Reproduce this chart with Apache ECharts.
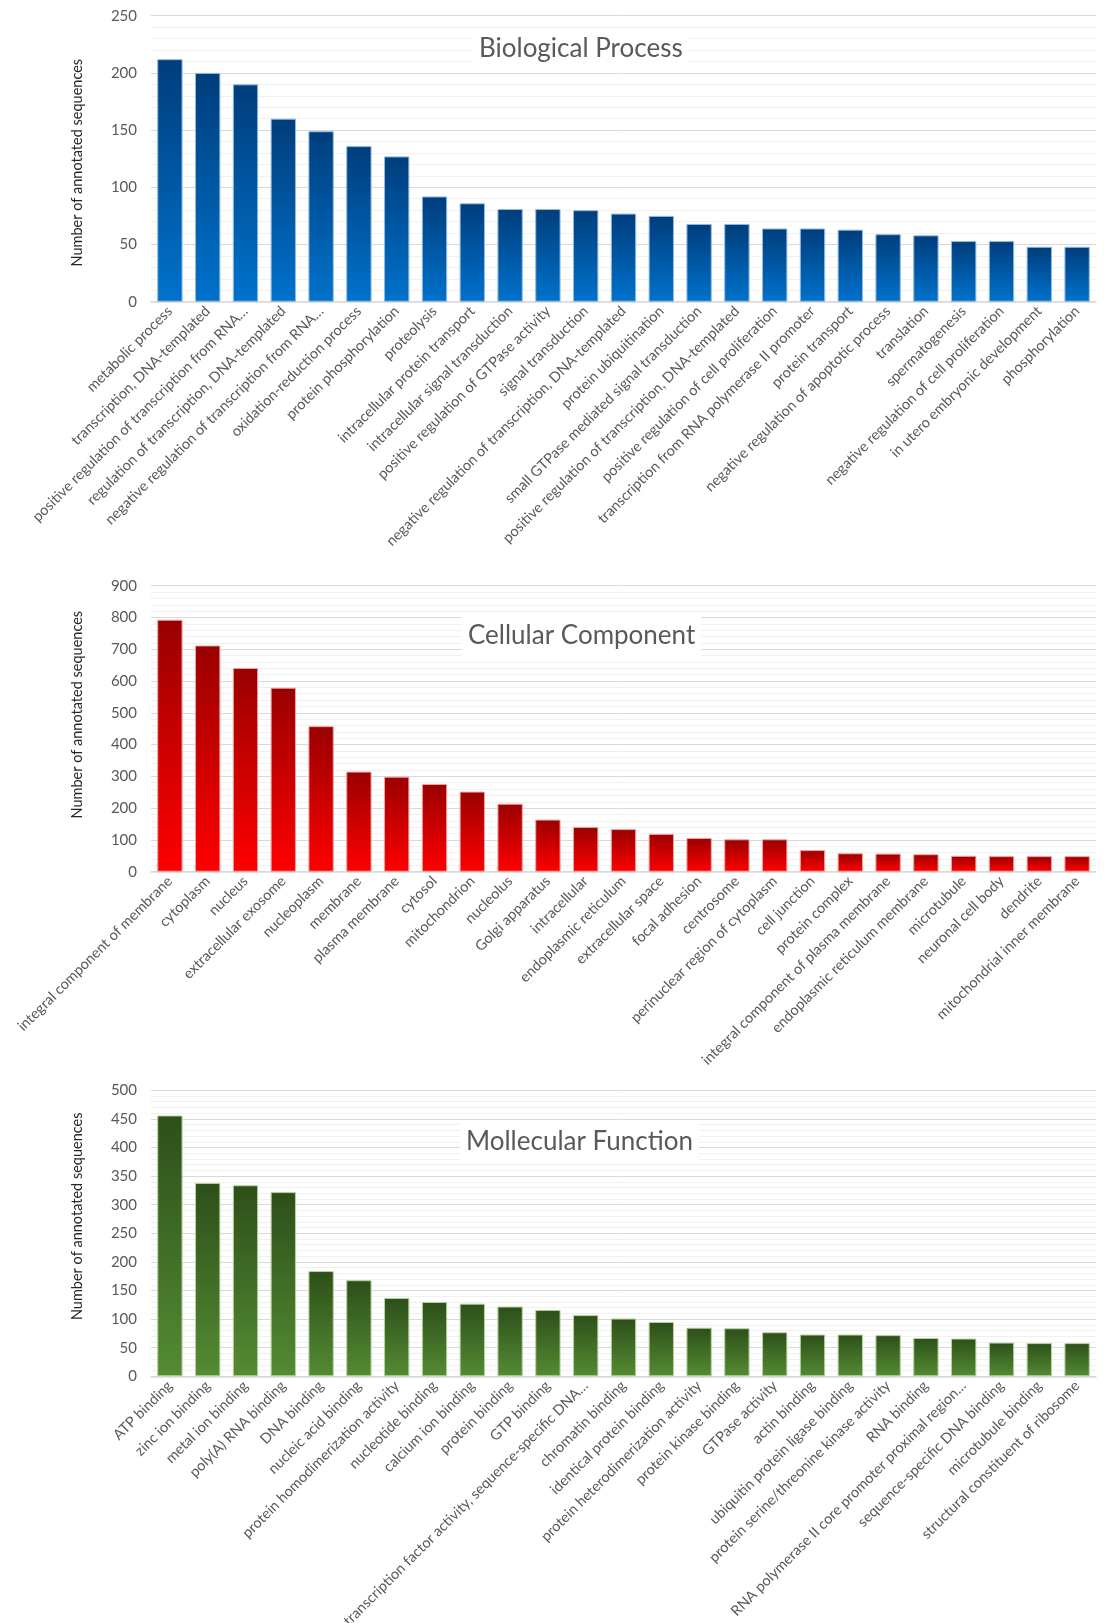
<!DOCTYPE html>
<html>
<head>
    <meta charset="utf-8">
    <title>GO annotation</title>
    <script src="https://cdn.jsdelivr.net/npm/echarts@6/dist/echarts.min.js"></script>
    <style>
        html, body { margin: 0; padding: 0; background: #fff; }
        #container { width: 1104px; height: 1623px; }
    </style>
</head>
<body>
<div id="container"></div>
<script>
    // Biological Process
    var bpNames = ["metabolic process", "transcription, DNA-templated", "positive regulation of transcription from RNA…",
        "regulation of transcription, DNA-templated", "negative regulation of transcription from RNA…",
        "oxidation-reduction process", "protein phosphorylation", "proteolysis", "intracellular protein transport",
        "intracellular signal transduction", "positive regulation of GTPase activity", "signal transduction",
        "negative regulation of transcription, DNA-templated", "protein ubiquitination",
        "small GTPase mediated signal transduction", "positive regulation of transcription, DNA-templated",
        "positive regulation of cell proliferation", "transcription from RNA polymerase II promoter",
        "protein transport", "negative regulation of apoptotic process", "translation", "spermatogenesis",
        "negative regulation of cell proliferation", "in utero embryonic development", "phosphorylation"];
    var bpValues = [212, 200, 190, 160, 149, 136, 127, 92, 86, 81, 81, 80, 77, 75, 68, 68, 64, 64, 63, 59, 58, 53, 53, 48, 48];

    // Cellular Component
    var ccNames = ["integral component of membrane", "cytoplasm", "nucleus", "extracellular exosome", "nucleoplasm",
        "membrane", "plasma membrane", "cytosol", "mitochondrion", "nucleolus", "Golgi apparatus", "intracellular",
        "endoplasmic reticulum", "extracellular space", "focal adhesion", "centrosome",
        "perinuclear region of cytoplasm", "cell junction", "protein complex",
        "integral component of plasma membrane", "endoplasmic reticulum membrane", "microtubule",
        "neuronal cell body", "dendrite", "mitochondrial inner membrane"];
    var ccValues = [793, 712, 641, 579, 458, 315, 299, 276, 252, 214, 164, 141, 134, 119, 106, 102, 102, 68, 58, 57, 55, 50, 49, 49, 49];

    // Mollecular Function
    var mfNames = ["ATP binding", "zinc ion binding", "metal ion binding", "poly(A) RNA binding", "DNA binding",
        "nucleic acid binding", "protein homodimerization activity", "nucleotide binding", "calcium ion binding",
        "protein binding", "GTP binding", "transcription factor activity, sequence-specific DNA…",
        "chromatin binding", "identical protein binding", "protein heterodimerization activity",
        "protein kinase binding", "GTPase activity", "actin binding", "ubiquitin protein ligase binding",
        "protein serine/threonine kinase activity", "RNA binding",
        "RNA polymerase II core promoter proximal region…", "sequence-specific DNA binding",
        "microtubule binding", "structural constituent of ribosome"];
    var mfValues = [456, 338, 334, 322, 184, 168, 137, 130, 127, 122, 116, 107, 101, 95, 85, 84, 77, 73, 73, 72, 67, 66, 59, 58, 58];

    // y axis ticks: [max, interval]
    var bpTicks = [250, 50];
    var ccTicks = [900, 100];
    var mfTicks = [500, 50];

    var panels = [
        {title: "Biological Process", names: bpNames, values: bpValues, ticks: bpTicks,
            top: 15.7, titleLeft: 473, titleTop: 28, namePad: [0, 8, 0, 0],
            colors: ["#003d7b", "#0072cc"], border: "#8fb9e3"},
        {title: "Cellular Component", names: ccNames, values: ccValues, ticks: ccTicks,
            top: 585.7, titleLeft: 462, titleTop: 615, namePad: [0, 0, 0, 28],
            colors: ["#990000", "#ff0000"], border: "#f3a0a0"},
        {title: "Mollecular Function", names: mfNames, values: mfValues, ticks: mfTicks,
            top: 1090.3, titleLeft: 460, titleTop: 1121, namePad: [0, 0, 0, 34],
            colors: ["#2d4f1a", "#548b33"], border: "#b4d39e"}
    ];

    var font = "Lato, 'Open Sans', sans-serif";
    var option = {
        backgroundColor: "#fff",
        animation: false,
        title: [], grid: [], xAxis: [], yAxis: [], series: []
    };

    panels.forEach(function (p, i) {
        option.title.push({
            text: p.title,
            left: p.titleLeft,
            top: p.titleTop,
            backgroundColor: "#fff",
            padding: [7, 6],
            textStyle: {color: "#595959", fontSize: 26, fontWeight: "normal", fontFamily: font, lineHeight: 28}
        });
        option.grid.push({left: 151, right: 8, top: p.top, height: 286, containLabel: false, outerBoundsMode: "none"});
        option.xAxis.push({
            type: "category",
            gridIndex: i,
            data: p.names,
            axisLine: {lineStyle: {color: "#d9d9d9", width: 1.5}},
            axisTick: {show: false},
            axisLabel: {interval: 0, rotate: 45, margin: 7, color: "#595959", fontSize: 14.5, fontFamily: font}
        });
        option.yAxis.push({
            type: "value",
            gridIndex: i,
            min: 0,
            max: p.ticks[0],
            interval: p.ticks[1],
            name: "Number of annotated sequences",
            nameLocation: "middle",
            nameGap: 66,
            nameTextStyle: {color: "#262626", fontSize: 14.5, fontFamily: font, padding: p.namePad},
            axisLine: {show: false},
            axisTick: {show: false},
            axisLabel: {color: "#595959", fontSize: 15, fontFamily: font, margin: 14},
            splitLine: {lineStyle: {color: "#d9d9d9", width: 1}},
            minorTick: {show: false, splitNumber: 5},
            minorSplitLine: {show: true, lineStyle: {color: "#f0f0f0", width: 1}}
        });
        option.series.push({
            type: "bar",
            xAxisIndex: i,
            yAxisIndex: i,
            data: p.values,
            barCategoryGap: "33%",
            itemStyle: {
                color: new echarts.graphic.LinearGradient(0, 0, 0, 1, [
                    {offset: 0, color: p.colors[0]},
                    {offset: 1, color: p.colors[1]}
                ]),
                borderColor: p.border,
                borderWidth: 1
            }
        });
    });

    var myChart = echarts.init(document.getElementById("container"));
    myChart.setOption(option);
</script>
</body>
</html>
